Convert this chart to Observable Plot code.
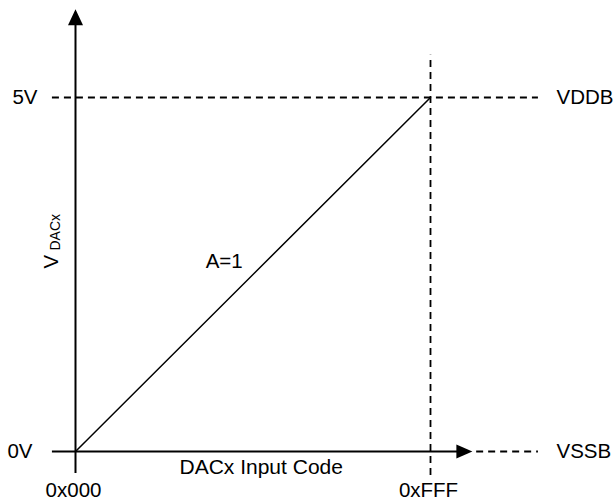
<!DOCTYPE html>
<html><head><meta charset="utf-8">
<script src="https://cdn.jsdelivr.net/npm/d3@7"></script>
<script src="https://cdn.jsdelivr.net/npm/@observablehq/plot@0.6"></script>
<style>body{margin:0;background:#fff} svg{display:block}</style>
</head><body><div id="chart"></div>
<script>
// ---- data ----
const codes = [0, 4095];                 // DAC input code (0x000 .. 0xFFF)
const codeLabels = ["0x000", "0xFFF"];
const volts = [0, 5];                    // output voltage at those codes (A=1)
const voltLabels = ["0V", "5V"];
const railLabels = ["VSSB", "VDDB"];
const gainLabel = "A=1";
const xTitle = "DACx Input Code";
const yTitleMain = "V";
const yTitleSub = "DACx";

const FS = codes[1], VMAX = volts[1];
const transfer = codes.map((c, i) => ({code: c, v: volts[i]}));

const arrowUp = {draw(ctx) { ctx.moveTo(0, 0); ctx.lineTo(7.5, 16); ctx.lineTo(-7.5, 16); ctx.closePath(); }};
const arrowRight = {draw(ctx) { ctx.moveTo(0, 0); ctx.lineTo(-16, -7); ctx.lineTo(-16, 7); ctx.closePath(); }};

const dash = "7,5";
const chart = Plot.plot({
  width: 615, height: 504,
  marginLeft: 75, marginRight: 185, marginTop: 97, marginBottom: 53,
  x: {domain: [0, FS], axis: null},
  y: {domain: [0, VMAX], axis: null},
  style: {fontFamily: "Arial, 'Liberation Sans', sans-serif", fontSize: "20.5px", background: "white", color: "black"},
  marks: [
    // reference (dashed) lines
    Plot.ruleY([VMAX], {x1: -0.065 * FS, x2: 1.304 * FS, stroke: "black", strokeWidth: 1.8, strokeDasharray: dash}),
    Plot.ruleY([0], {x1: 1.13 * FS, x2: 1.304 * FS, stroke: "black", strokeWidth: 1.8, strokeDasharray: dash}),
    Plot.ruleX([FS], {y1: -0.068 * VMAX, y2: 1.119 * VMAX, stroke: "black", strokeWidth: 1.8, strokeDasharray: dash}),
    // axes with arrowheads
    Plot.ruleY([0], {x1: -0.065 * FS, x2: 1.09 * FS, stroke: "black", strokeWidth: 2}),
    Plot.ruleX([0], {y1: -0.062 * VMAX, y2: 1.215 * VMAX, stroke: "black", strokeWidth: 2}),
    Plot.dot([0], {x: 1.118 * FS, y: 0, symbol: arrowRight, fill: "black", stroke: "none"}),
    Plot.dot([0], {x: 0, y: 1.249 * VMAX, symbol: arrowUp, fill: "black", stroke: "none"}),
    // transfer function
    Plot.line(transfer, {x: "code", y: "v", stroke: "black", strokeWidth: 1.5}),
    Plot.text([gainLabel], {x: 0.54 * FS, y: 0.54 * VMAX, text: d => d, dx: -43, dy: 1}),
    // tick labels
    Plot.text(codes, {x: d => d, text: (d, i) => codeLabels[i], frameAnchor: "bottom", dy: 45, dx: -2}),
    Plot.text([volts[1]], {y: d => d, text: () => voltLabels[1], frameAnchor: "left", textAnchor: "end", dx: -38}),
    Plot.text([volts[0]], {y: d => d, text: () => voltLabels[0], frameAnchor: "left", textAnchor: "end", dx: -43}),
    Plot.text(volts, {y: d => d, text: (d, i) => railLabels[i], frameAnchor: "right", textAnchor: "start", dx: 126}),
    // axis titles
    Plot.text([xTitle], {frameAnchor: "bottom-left", text: d => d, textAnchor: "start", dx: 104, dy: 22, fontSize: 21}),
    Plot.text([yTitleMain], {frameAnchor: "left", text: d => d, rotate: -90, textAnchor: "start", lineAnchor: "bottom", dx: -18, dy: -6}),
    Plot.text([yTitleSub], {frameAnchor: "left", text: d => d, rotate: -90, textAnchor: "start", lineAnchor: "bottom", dx: -16, dy: -24, fontSize: 14})
  ]
});
document.getElementById("chart").append(chart);
</script>
</body></html>
